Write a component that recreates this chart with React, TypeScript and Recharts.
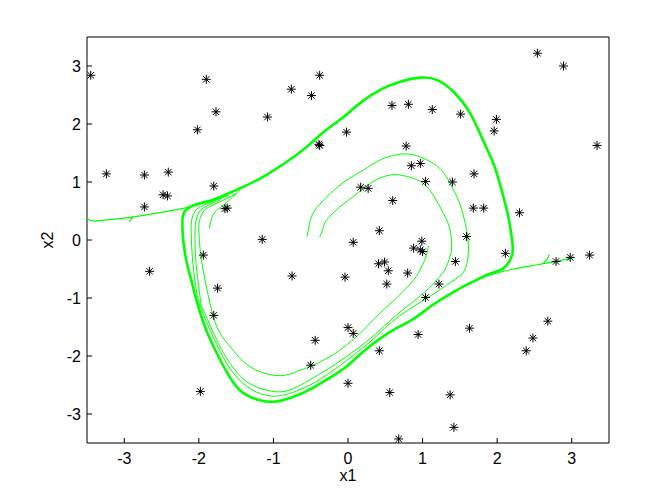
import { Scatter, ScatterChart, XAxis, YAxis } from "recharts";

type Pair = [number, number];

const xTicks = [-3, -2, -1, 0, 1, 2, 3];
const yTicks = [-3, -2, -1, 0, 1, 2, 3];

// closed orbit (drawn thick, several runs overlap on it)
const limitCycle: Pair[] = [
  [-1.81, 0.69], [-1.45, 0.89], [-1.14, 1.09], [-0.82, 1.35], [-0.55, 1.61],
  [-0.29, 1.9], [-0.06, 2.12], [0.16, 2.36], [0.43, 2.59], [0.7, 2.73],
  [0.97, 2.8], [1.19, 2.76], [1.41, 2.56], [1.64, 2.18], [1.81, 1.72],
  [1.95, 1.32], [2.06, 0.86], [2.15, 0.4], [2.2, 0.0], [2.2, -0.26],
  [2.08, -0.49], [1.9, -0.58], [1.77, -0.66], [1.55, -0.8], [1.32, -0.97],
  [1.1, -1.15], [0.88, -1.36], [0.65, -1.52], [0.43, -1.7], [0.2, -1.93],
  [-0.02, -2.18], [-0.25, -2.38], [-0.5, -2.57], [-0.75, -2.71], [-1.0, -2.79],
  [-1.22, -2.75], [-1.45, -2.59], [-1.63, -2.27], [-1.78, -1.9], [-1.92, -1.49],
  [-2.03, -1.05], [-2.1, -0.7], [-2.16, -0.4], [-2.21, 0.0], [-2.22, 0.34],
  [-2.19, 0.49], [-2.07, 0.6], [-1.81, 0.69],
];

const fromLeft: Pair[] = [
  [-3.5, 0.37], [-3.42, 0.33], [-3.2, 0.35], [-2.92, 0.39], [-2.48, 0.48],
  [-2.12, 0.57], [-1.81, 0.69], [-1.45, 0.89],
];

const leftHook: Pair[] = [[-2.93, 0.31], [-2.91, 0.36], [-2.88, 0.39]];

const fromRight: Pair[] = [
  [3.03, -0.3], [2.8, -0.37], [2.66, -0.4], [2.44, -0.45], [2.22, -0.5],
  [1.99, -0.57], [1.77, -0.66], [1.55, -0.8], [1.32, -0.97], [1.1, -1.15],
];

const rightHook: Pair[] = [[2.7, -0.25], [2.67, -0.33], [2.62, -0.4]];

const innerA: Pair[] = [
  [1.08, -0.1], [1.06, -0.22], [1.03, -0.34], [0.97, -0.5], [0.88, -0.69],
  [0.65, -1.0], [0.43, -1.26], [0.21, -1.55], [-0.02, -1.81], [-0.24, -2.01],
  [-0.47, -2.16], [-0.69, -2.27], [-0.91, -2.34], [-1.18, -2.27], [-1.4, -2.1],
  [-1.58, -1.84], [-1.74, -1.55], [-1.85, -1.1], [-1.93, -0.6], [-1.98, -0.2],
  [-2.0, 0.23], [-1.98, 0.38], [-1.92, 0.52], [-1.75, 0.64], [-1.5, 0.8],
];

const innerB: Pair[] = [
  [-0.55, 0.06], [-0.52, 0.25], [-0.47, 0.46], [-0.36, 0.64], [-0.24, 0.8],
  [-0.02, 1.03], [0.21, 1.21], [0.43, 1.38], [0.65, 1.47], [0.83, 1.48],
  [1.01, 1.41], [1.19, 1.28], [1.32, 1.09], [1.42, 0.85], [1.5, 0.62],
  [1.57, 0.3], [1.61, 0.0], [1.61, -0.29], [1.55, -0.55], [1.39, -0.72],
  [1.1, -0.97], [0.7, -1.3], [0.43, -1.6], [0.16, -1.9], [-0.2, -2.25],
  [-0.51, -2.5], [-0.82, -2.66], [-1.09, -2.68], [-1.36, -2.52], [-1.58, -2.22],
  [-1.76, -1.8], [-1.94, -1.28], [-2.03, -0.9], [-2.08, -0.4], [-2.1, 0.0],
  [-2.1, 0.3], [-2.05, 0.5], [-1.9, 0.62], [-1.6, 0.77],
];

const innerC: Pair[] = [
  [-0.38, 0.05], [-0.33, 0.22], [-0.29, 0.34], [-0.11, 0.57], [0.12, 0.8],
  [0.34, 1.01], [0.56, 1.12], [0.74, 1.11], [0.97, 1.01], [1.14, 0.78],
  [1.28, 0.46], [1.37, 0.17], [1.39, -0.12], [1.38, -0.23], [1.32, -0.46],
  [1.23, -0.63], [1.01, -0.92], [0.7, -1.24], [0.43, -1.55], [0.16, -1.84],
  [-0.18, -2.15], [-0.51, -2.41], [-0.82, -2.6], [-1.09, -2.59], [-1.36, -2.44],
  [-1.58, -2.13], [-1.76, -1.72], [-1.94, -1.21], [-1.98, -1.03], [-2.03, -0.5],
  [-2.05, -0.12], [-2.05, 0.2], [-2.02, 0.42], [-1.93, 0.56], [-1.7, 0.7],
];

const shortLeft: Pair[] = [
  [-1.86, 0.2], [-1.84, 0.32], [-1.81, 0.43], [-1.75, 0.53], [-1.67, 0.6],
  [-1.45, 0.86],
];

const samplePoints: Pair[] = [
  [-3.45, 2.84], [-3.24, 1.14], [-2.73, 1.12], [-2.73, 0.57], [-2.66, -0.54],
  [-2.48, 0.78], [-2.42, 0.76], [-2.41, 1.17], [-2.02, 1.9], [-1.9, 2.77],
  [-1.77, 2.21], [-1.8, 0.93], [-1.65, 0.54], [-1.62, 0.55], [-1.94, -0.26],
  [-1.75, -0.83], [-1.8, -1.3], [-1.98, -2.61], [-1.15, 0.01], [-1.08, 2.12],
  [-0.76, 2.6], [-0.75, -0.62], [-0.49, 2.49], [-0.39, 1.65], [-0.38, 1.63],
  [-0.38, 2.84], [-0.44, -1.73], [-0.5, -2.16], [-0.02, 1.86], [-0.04, -0.64],
  [0.0, -1.51], [0.07, -1.61], [0.0, -2.47], [0.07, -0.04], [0.17, 0.91],
  [0.27, 0.89], [0.42, 0.16], [0.41, -0.41], [0.49, -0.38], [0.54, -0.53],
  [0.52, -0.76], [0.42, -1.91], [0.56, -2.63], [0.6, 0.68], [0.59, 2.32],
  [0.81, 2.34], [0.78, 1.62], [0.85, 1.28], [0.97, 1.32], [1.04, 1.01],
  [1.13, 2.25], [0.8, -0.57], [0.99, -0.02], [0.88, -0.14], [0.97, -0.17],
  [1.0, -0.2], [0.94, -1.63], [1.04, -0.99], [1.22, -0.76], [0.68, -3.43],
  [1.37, -2.67], [1.42, -3.23], [1.4, 1.0], [1.44, -0.37], [1.51, 2.17],
  [1.59, 0.06], [1.63, -1.52], [1.69, 1.14], [1.68, 0.55], [1.82, 0.55],
  [1.96, 1.88], [1.99, 2.08], [2.11, -0.23], [2.3, 0.47], [2.54, 3.22],
  [2.48, -1.69], [2.39, -1.91], [2.68, -1.4], [2.79, -0.37], [2.98, -0.3],
  [2.89, 3.0], [3.24, -0.26], [3.34, 1.63],
];

const toXY = (pairs: Pair[]) => pairs.map(([x, y]) => ({ x, y }));

const runs = [
  { key: "cycle", pts: limitCycle, width: 2.6 },
  { key: "left", pts: fromLeft, width: 1.2 },
  { key: "leftHook", pts: leftHook, width: 1.2 },
  { key: "right", pts: fromRight, width: 1.2 },
  { key: "rightHook", pts: rightHook, width: 1.2 },
  { key: "innerA", pts: innerA, width: 1 },
  { key: "innerB", pts: innerB, width: 1 },
  { key: "innerC", pts: innerC, width: 1 },
  { key: "shortLeft", pts: shortLeft, width: 1 },
];

const GREEN = "#00ff00";
const FONT = "'Liberation Sans', Arial, sans-serif";

const NoMarker = () => <g />;

function Asterisk(props: any) {
  const { cx, cy } = props;
  if (cx == null || cy == null) return <g />;
  const a = 4.5;
  const d = 3.2;
  return (
    <g stroke="#000" strokeWidth={1}>
      <line x1={cx - a} y1={cy} x2={cx + a} y2={cy} />
      <line x1={cx} y1={cy - a} x2={cx} y2={cy + a} />
      <line x1={cx - d} y1={cy - d} x2={cx + d} y2={cy + d} />
      <line x1={cx - d} y1={cy + d} x2={cx + d} y2={cy - d} />
    </g>
  );
}

const tickStyle = { fill: "#000", fontSize: 16, fontFamily: FONT };

export default function App() {
  return (
    <div
      style={{
        position: "absolute",
        left: 0,
        top: 0,
        width: 672,
        height: 498,
        background: "#fff",
      }}
    >
      <ScatterChart
        width={672}
        height={498}
        margin={{ top: 36, right: 62, bottom: 5, left: 8 }}
      >
        <XAxis
          type="number"
          dataKey="x"
          domain={[-3.5, 3.5]}
          ticks={xTicks}
          allowDataOverflow
          height={50}
          tickSize={-5}
          tickMargin={15}
          axisLine={{ stroke: "#000" }}
          tickLine={{ stroke: "#000" }}
          tick={tickStyle}
          label={{
            value: "x1",
            position: "insideBottom",
            offset: 12,
            fill: "#000",
            fontSize: 16,
            fontFamily: FONT,
          }}
        />
        <XAxis
          xAxisId="top"
          orientation="top"
          type="number"
          domain={[-3.5, 3.5]}
          ticks={xTicks}
          allowDataOverflow
          height={1}
          tickSize={-5}
          axisLine={{ stroke: "#000" }}
          tickLine={{ stroke: "#000" }}
          tick={false}
        />
        <YAxis
          type="number"
          dataKey="y"
          domain={[-3.5, 3.5]}
          ticks={yTicks}
          allowDataOverflow
          width={79}
          tickSize={-5}
          tickMargin={11}
          axisLine={{ stroke: "#000" }}
          tickLine={{ stroke: "#000" }}
          tick={tickStyle}
          label={{
            value: "x2",
            angle: -90,
            position: "center",
            fill: "#000",
            fontSize: 16,
            fontFamily: FONT,
          }}
        />
        <YAxis
          yAxisId="right"
          orientation="right"
          type="number"
          domain={[-3.5, 3.5]}
          ticks={yTicks}
          allowDataOverflow
          width={1}
          tickSize={-5}
          axisLine={{ stroke: "#000" }}
          tickLine={{ stroke: "#000" }}
          tick={false}
        />
        {runs.map((r) => (
          <Scatter
            key={r.key}
            data={toXY(r.pts)}
            line={{ stroke: GREEN, strokeWidth: r.width }}
            lineJointType="natural"
            shape={NoMarker}
            isAnimationActive={false}
          />
        ))}
        <Scatter
          data={toXY(samplePoints)}
          shape={Asterisk}
          isAnimationActive={false}
        />
      </ScatterChart>
    </div>
  );
}
